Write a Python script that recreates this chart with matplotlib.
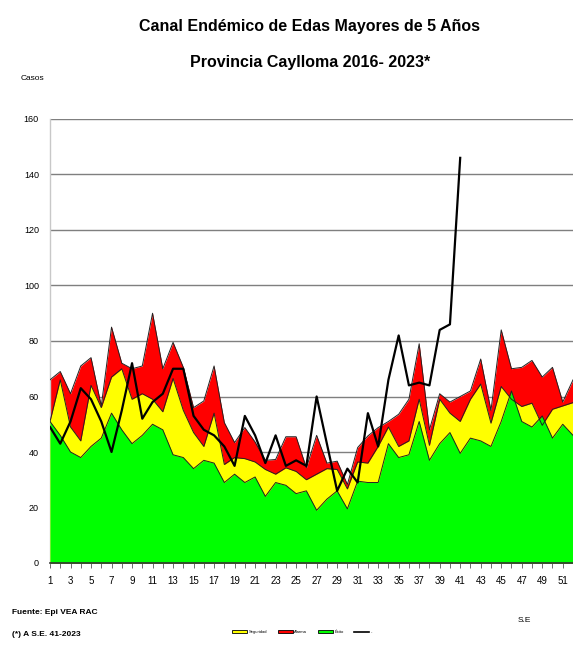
import matplotlib
matplotlib.use("Agg")
import matplotlib.pyplot as plt
from matplotlib.patches import Patch
from matplotlib.lines import Line2D

plt.rcParams['font.family'] = ['Liberation Sans', 'DejaVu Sans']

weeks = list(range(1, 53))
exito = [51, 46, 40, 38, 42, 45, 54, 48, 43, 46, 50, 48, 39, 38, 34, 37, 36, 29, 32, 29,
         31, 24, 29, 28, 25, 26, 19, 23, 26, 19.5, 29.5, 29, 29, 43, 38, 39, 51, 37, 43, 47,
         39.5, 45, 44, 42, 51, 62, 51, 49, 53, 45, 50, 46]
seguridad = [51, 66, 49, 44, 64, 56, 67, 70, 59, 61, 59, 54.5, 66.5, 55, 47, 42, 54, 35.5, 38, 37.6,
             36.4, 33.7, 32, 34.3, 33, 30, 32, 34, 33.7, 26.7, 36.4, 36, 42, 49, 42, 44, 59, 42.4, 59, 54,
             51, 59, 64.5, 50.4, 63.6, 59, 56.4, 57.6, 49.6, 55.4, 56.6, 57.8]
alarma = [66, 69, 61, 71, 74, 56.6, 85, 72, 70, 71, 90, 70, 79.5, 70.5, 56, 58.4, 71, 50.6, 43.4, 48.8,
          43.6, 37, 37.3, 45.5, 45.5, 34.3, 46, 36, 36.7, 28.3, 41.6, 45.8, 48.8, 51, 53.6, 59, 79, 48, 61, 58,
          60, 62, 73.5, 55, 84, 70, 70.5, 73, 67, 70.5, 58, 66]
weeks_2023 = list(range(1, 42))
casos_2023 = [49, 43, 51, 63, 59, 51, 40, 55, 72, 52, 58, 61, 70, 70, 53, 48, 46, 42, 35, 53,
              46, 36, 46, 35, 37, 35, 60, 43, 26, 34, 29, 54, 42, 66, 82, 64, 65, 64, 84, 86, 146]
y_ticks = [0, 20, 40, 60, 80, 100, 120, 140, 160]
legend_labels = ["Seguridad", "Alarma", "Éxito", "-"]

C_RED = "#FF0000"
C_YEL = "#FFFF00"
C_GRN = "#00FF00"

fig = plt.figure(figsize=(5.73, 6.45), dpi=100)
ax = fig.add_axes([50/573, 82/645, 523/573, 444/645])

ax.fill_between(weeks, 0, alarma, color=C_RED, lw=0, zorder=2)
ax.fill_between(weeks, 0, seguridad, color=C_YEL, lw=0, zorder=3)
ax.fill_between(weeks, 0, exito, color=C_GRN, lw=0, zorder=4)
ax.plot(weeks, alarma, color="#222222", lw=0.7, zorder=5)
ax.plot(weeks, seguridad, color="#222222", lw=0.7, zorder=5)
ax.plot(weeks, exito, color="#222222", lw=0.7, zorder=5)
ax.plot(weeks_2023, casos_2023, color="black", lw=1.6, zorder=6)

ax.set_xlim(1, 52)
ax.set_ylim(0, 160)
ax.set_yticks(y_ticks)
ax.set_yticklabels([str(v) for v in y_ticks], fontsize=6.5)
ax.tick_params(axis='y', length=0, pad=8)
ax.set_xticks(weeks)
ax.set_xticklabels([str(w) if w % 2 == 1 else "" for w in weeks], fontsize=7)
ax.tick_params(axis='x', length=3.5, width=0.6, color="#555555", pad=6)
ax.grid(axis='y', color="#7f7f7f", lw=1.0, zorder=1)
ax.set_axisbelow(True)
for s in ["top", "right"]:
    ax.spines[s].set_visible(False)
ax.spines["left"].set_color("#c8c8c8")
ax.spines["left"].set_linewidth(1.0)
ax.spines["bottom"].set_color("#333333")
ax.spines["bottom"].set_linewidth(1.2)
ax.spines["bottom"].set_zorder(7)

fig.text(0.541, 1 - 26/645, "Canal Endémico de Edas Mayores de 5 Años", ha="center", va="center",
         fontsize=11.5, fontweight="bold")
fig.text(0.541, 1 - 63/645, "Provincia Caylloma 2016- 2023*", ha="center", va="center",
         fontsize=11.5, fontweight="bold")
fig.text(32/573, 1 - 78/645, "Casos", ha="center", va="center", fontsize=6)
fig.text(524/573, 1 - 620/645, "S.E", ha="center", va="center", fontsize=6)
fig.text(12/573, 1 - 612/645, "Fuente: Epi VEA RAC", ha="left", va="center", fontsize=6,
         fontweight="bold")
fig.text(12/573, 1 - 635/645, "(*) A S.E. 41-2023", ha="left", va="center", fontsize=6,
         fontweight="bold")

handles = [Patch(facecolor=C_YEL, edgecolor="black", lw=0.6),
           Patch(facecolor=C_RED, edgecolor="black", lw=0.6),
           Patch(facecolor=C_GRN, edgecolor="black", lw=0.6),
           Line2D([0], [0], color="black", lw=1.2)]
fig.legend(handles, legend_labels, loc="center", bbox_to_anchor=(302/573, 1 - 632/645), ncol=4,
           frameon=False, fontsize=3, handlelength=3.6, handleheight=0.9, columnspacing=2.5,
           handletextpad=0.4)

fig.savefig("out.png", dpi=100)
